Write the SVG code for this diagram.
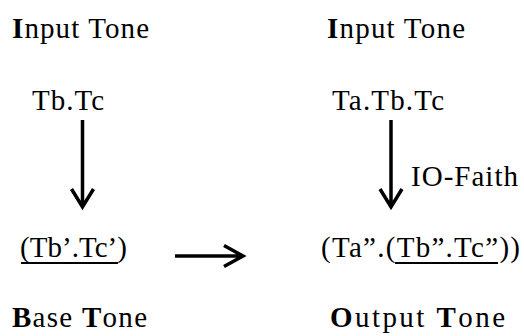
<svg xmlns="http://www.w3.org/2000/svg" width="524" height="336" viewBox="0 0 524 336">
<style>
.t{font-family:'Liberation Serif','Times New Roman','DejaVu Serif',serif;font-size:29px;fill:#000}
.b{font-weight:bold}
.c{stroke:#000;stroke-width:3.5;fill:none}
.u{stroke:#000;stroke-width:2}
</style>
<rect width="524" height="336" fill="#fff"/>
<g id="input-left"><text class="t" x="12" y="38" textLength="137"><tspan class="b">I</tspan>nput Tone</text></g>
<g id="input-right"><text class="t" x="327" y="38" textLength="138"><tspan class="b">I</tspan>nput Tone</text></g>
<g id="tbtc"><text class="t" x="32" y="110" textLength="72">Tb.Tc</text></g>
<g id="tatbtc"><text class="t" x="332" y="110" textLength="112">Ta.Tb.Tc</text></g>
<g id="base"><text class="t" x="20" y="257" textLength="107">(Tb’.Tc’)</text><line class="u" x1="21" y1="263" x2="118" y2="263"/></g>
<g id="output"><text class="t" x="321" y="257" textLength="199">(Ta”.(Tb”.Tc”))</text><line class="u" x1="395" y1="263" x2="498" y2="263"/></g>
<g id="ioFaith"><text class="t" x="411" y="186" textLength="107">IO-Faith</text></g>
<g id="base-label"><text class="t" x="12" y="327" textLength="135"><tspan class="b">B</tspan>ase <tspan class="b">T</tspan>one</text></g>
<g id="output-label"><text class="t" x="330" y="327" textLength="175"><tspan class="b">O</tspan>utput <tspan class="b">T</tspan>one</text></g>
<g id="connectors">
<path class="c" d="M82.5 120V207M71.5 189L82.5 207L93.5 189"/>
<path class="c" d="M391 120V207M380 189L391 207L402 189"/>
<path class="c" d="M175 256H243M224 245.5L243 256L224 266.5"/>
</g>
</svg>
